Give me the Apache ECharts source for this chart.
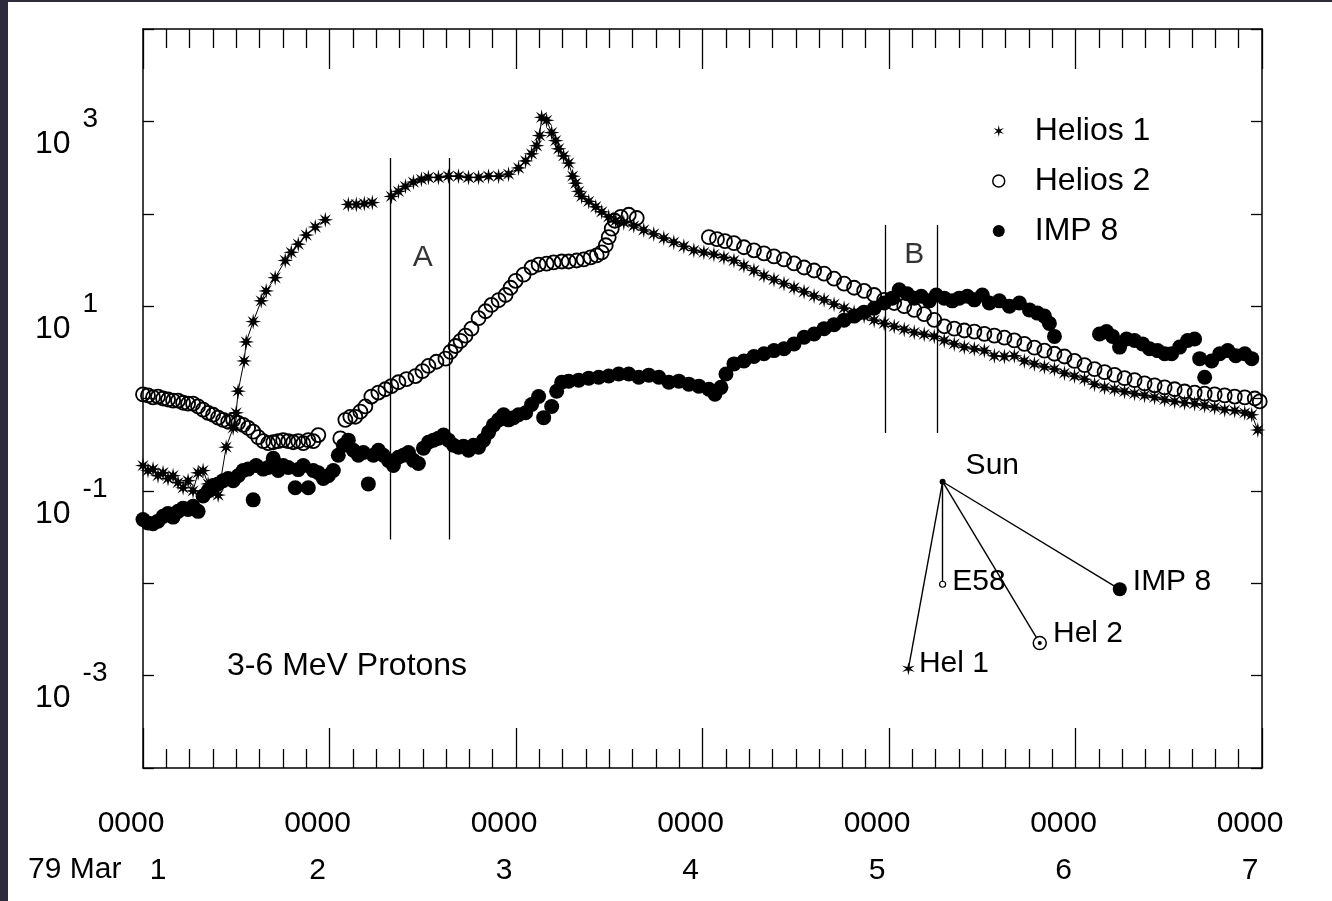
<!DOCTYPE html>
<html>
<head>
<meta charset="utf-8">
<script src="https://cdn.jsdelivr.net/npm/echarts@6/dist/echarts.min.js"></script>
<style>
  html, body { margin: 0; padding: 0; background: #2e2c3c; }
  #chart { position: absolute; left: 8px; top: 2px; width: 1324px; height: 899px; background: #fff; }
</style>
</head>
<body>
<div id="chart"></div>
<script>
// hours after 79 Mar 1 0000 UT, flux (3-6 MeV protons)
const helios1 = [
  [0, 0.188], [0.64, 0.166], [1.29, 0.172], [1.93, 0.146], [2.58, 0.157], [3.22, 0.136], [3.87, 0.146],
  [4.51, 0.123], [5.16, 0.108], [5.8, 0.129], [6.44, 0.1], [7.09, 0.157], [7.73, 0.166], [8.38, 0.119],
  [9.02, 0.1], [9.67, 0.09], [10.7, 0.297], [11.6, 0.48], [11.99, 0.7], [12.24, 1.2], [13.02, 2.55],
  [13.28, 4.1], [14.18, 6.8], [15.21, 11.4], [15.85, 14.6], [17.01, 20.3], [18.3, 31.2], [19.08, 38.2],
  [19.98, 46.8], [21.01, 58.8], [22.17, 71.9], [23.46, 85.9], [24.5, null],
  [26.42, 126], [27.45, 126], [28.48, 129], [29.51, 132], [30.5, null],
  [31.96, 154], [32.87, 175], [33.77, 198], [34.8, 220], [35.83, 236], [36.73, 247], [38.02, 247],
  [39.31, 255], [40.6, 255], [41.89, 247], [43.18, 247], [44.47, 255], [45.76, 255], [47.04, 268],
  [48.33, 313], [49.24, 373], [50.01, 445], [50.65, 545], [51.04, 702], [51.3, 1107], [51.94, 1026],
  [52.59, 757], [53.1, 618], [53.49, 505], [54.13, 423], [54.78, 354], [55.29, 255], [55.68, 214],
  [56.07, 175], [56.45, 154], [57.36, 136], [58.26, 119], [59.03, 105], [59.93, 92.7], [60.84, 84],
  [61.87, 80], [63.16, 74], [64.44, 66.7], [65.73, 60.5], [67.02, 54.5], [68.31, 49.2], [69.6, 44.5],
  [70.89, 40.2], [72.18, 38.2], [73.47, 36.3], [74.76, 33.7], [76.05, 31.2], [77.33, 27.5], [78.62, 24.3],
  [79.91, 21.4], [81.2, 19.4], [82.49, 17.5], [83.78, 15.8], [85.07, 14.3], [86.36, 12.9], [87.65, 11.7],
  [88.93, 10.5], [90.22, 9.5], [91.51, 8.6], [92.8, 7.8], [94.09, 7.05], [95.38, 6.5], [96.67, 6.05],
  [97.96, 5.6], [99.25, 5.2], [100.53, 4.95], [101.82, 4.7], [103.11, 4.25], [104.4, 3.9], [105.69, 3.6],
  [106.98, 3.45], [108.27, 3.3], [109.56, 2.9], [110.85, 2.85], [112.13, 2.9], [113.42, 2.55], [114.71, 2.37],
  [116.0, 2.2], [117.29, 2.08], [118.58, 1.88], [119.87, 1.75], [121.16, 1.62], [122.45, 1.43], [123.74, 1.32],
  [125.03, 1.26], [126.31, 1.19], [127.6, 1.13], [128.89, 1.08], [130.18, 1.03], [131.47, 0.975], [132.76, 0.93],
  [134.04, 0.9], [135.33, 0.88], [136.62, 0.84], [137.91, 0.8], [139.2, 0.757], [140.49, 0.74], [141.78, 0.7],
  [142.68, 0.667], [143.46, 0.456]
]
const helios2 = [
  [0, 1.11], [0.64, 1.08], [1.29, 1.03], [1.93, 1.05], [2.58, 1.0], [3.22, 0.975], [3.87, 0.95], [4.51, 0.95],
  [5.16, 0.9], [5.8, 0.88], [6.44, 0.88], [7.09, 0.82], [7.73, 0.757], [8.38, 0.7], [9.02, 0.667], [9.67, 0.62],
  [10.31, 0.587], [10.96, 0.56], [11.6, 0.587], [12.24, 0.545], [12.89, 0.518], [13.53, 0.48], [14.18, 0.437],
  [14.82, 0.382], [15.47, 0.345], [16.11, 0.328], [16.76, 0.336], [17.4, 0.345], [18.04, 0.354], [18.69, 0.345],
  [19.33, 0.336], [19.98, 0.345], [20.62, 0.328], [21.27, 0.354], [21.91, 0.345], [22.56, 0.402],
  [25.39, 0.37], [26.04, 0.587], [26.68, 0.634], [27.32, 0.634], [27.97, 0.72], [28.61, 0.82], [29.39, 1.05],
  [30.29, 1.16], [31.19, 1.26], [31.96, 1.36], [32.87, 1.5], [33.9, 1.62], [35.06, 1.75], [35.96, 1.98],
  [36.73, 2.25], [37.76, 2.5], [38.92, 2.7], [39.57, 3.2], [40.21, 3.7], [40.86, 4.2], [41.5, 4.8], [42.27, 5.7],
  [43.18, 7.4], [44.08, 8.8], [44.85, 10.3], [45.76, 11.6], [46.66, 13.2], [47.3, 15.8], [47.95, 18.8],
  [48.98, 21.9], [50.01, 26.2], [50.91, 28.2], [51.94, 28.8], [52.84, 29.7], [53.88, 30.4], [54.78, 30.4],
  [55.8, 31.2], [56.71, 32.0], [57.61, 33.7], [58.39, 35.4], [59.03, 38.2], [59.55, 45.6], [59.93, 55.8],
  [60.32, 69], [60.71, 84], [61.48, 92.7], [62.51, 97.5], [63.54, 90],
  [72.82, 55.8], [73.86, 53.1], [74.89, 50.5], [76.05, 48], [77.33, 43.4], [78.62, 40.2], [79.91, 37.2],
  [81.2, 34.5], [82.49, 32], [83.78, 29], [85.07, 26.2], [86.36, 24.3], [87.65, 22.5], [88.93, 19.8],
  [90.22, 17.5], [91.51, 15.8], [92.8, 14.6], [94.09, 13.2], [95.38, 11.7], [96.67, 10.8], [97.96, 10.0],
  [99.25, 9.1], [100.53, 8.2], [101.82, 7.1], [103.11, 6.05], [104.4, 5.7], [105.69, 5.45], [106.98, 5.3],
  [108.27, 5.0], [109.56, 4.8], [110.85, 4.55], [112.13, 4.25], [113.42, 3.9], [114.71, 3.55], [116.0, 3.3],
  [117.29, 3.05], [118.58, 2.85], [119.87, 2.55], [121.16, 2.3], [122.45, 2.08], [123.74, 1.93], [125.03, 1.8],
  [126.31, 1.66], [127.6, 1.58], [128.89, 1.46], [130.18, 1.39], [131.47, 1.32], [132.76, 1.26], [134.04, 1.19],
  [135.33, 1.16], [136.62, 1.13], [137.91, 1.11], [139.2, 1.08], [140.49, 1.05], [141.78, 1.03], [143.07, 1.0],
  [143.71, 0.93]
]
const imp8 = [
  [0, 0.049], [0.64, 0.045], [1.29, 0.044], [1.93, 0.047], [2.58, 0.053], [3.22, 0.057], [3.87, 0.052],
  [4.51, 0.06], [5.16, 0.065], [5.8, 0.063], [6.44, 0.068], [7.09, 0.06], [7.73, 0.088], [8.38, 0.1],
  [9.02, 0.114], [9.67, 0.119], [10.31, 0.129], [10.96, 0.136], [11.6, 0.129], [12.24, 0.146], [12.89, 0.166],
  [13.53, 0.172], [14.18, 0.08], [14.56, 0.188], [15.47, 0.172], [16.11, 0.179], [16.76, 0.225], [17.4, 0.166],
  [18.04, 0.188], [18.69, 0.179], [19.59, 0.108], [19.98, 0.17], [20.62, 0.188], [21.27, 0.108], [21.91, 0.166],
  [22.56, 0.157], [23.2, 0.136], [23.84, 0.146], [24.49, 0.166], [25.13, 0.243], [25.78, 0.312], [26.42, 0.354],
  [27.07, 0.275], [27.71, 0.243], [28.36, 0.26], [29.0, 0.119], [29.64, 0.243], [30.29, 0.275], [30.93, 0.243],
  [31.58, 0.214], [32.22, 0.188], [32.87, 0.231], [33.51, 0.243], [34.16, 0.26], [34.8, 0.214], [35.44, 0.198],
  [36.09, 0.29], [36.73, 0.336], [37.38, 0.354], [38.02, 0.372], [38.67, 0.402], [39.31, 0.354], [39.96, 0.312],
  [40.6, 0.297], [41.24, 0.304], [41.89, 0.275], [42.53, 0.312], [43.18, 0.297], [43.82, 0.354], [44.47, 0.43],
  [45.11, 0.518], [45.76, 0.587], [46.4, 0.667], [47.04, 0.587], [47.69, 0.62], [48.33, 0.667], [49.24, 0.7],
  [50.01, 0.86], [50.91, 1.05], [51.56, 0.62], [52.59, 0.82], [53.23, 1.2], [53.88, 1.5], [54.78, 1.54],
  [56.07, 1.58], [57.36, 1.66], [58.64, 1.7], [59.93, 1.75], [61.22, 1.84], [62.51, 1.84], [63.8, 1.7],
  [65.09, 1.79], [66.38, 1.7], [67.67, 1.5], [68.96, 1.54], [70.24, 1.43], [71.53, 1.36], [72.82, 1.26],
  [73.6, 1.11], [74.37, 1.32], [75.02, 1.84], [76.05, 2.37], [77.33, 2.55], [78.62, 2.85], [79.91, 3.05],
  [81.2, 3.3], [82.49, 3.45], [83.78, 3.9], [85.07, 4.6], [86.36, 5.0], [87.65, 5.7], [88.93, 6.3], [90.22, 7.05],
  [91.51, 7.8], [92.8, 8.6], [94.09, 9.5], [95.38, 10.8], [96.41, 12.2], [97.31, 15.0], [98.34, 13.6],
  [99.25, 12.2], [100.15, 12.8], [101.18, 11.4], [102.08, 13.2], [103.11, 12.2], [104.14, 11.4], [105.04, 12.2],
  [106.08, 12.8], [106.98, 11.7], [108.01, 13.2], [108.91, 10.8], [110.2, 11.4], [111.49, 10.0], [112.78, 10.8],
  [114.07, 9.1], [115.1, 8.4], [116.0, 7.8], [116.64, 6.5], [117.29, 4.7],
  [123.09, 5.0], [123.99, 5.3], [124.77, 4.7], [125.67, 3.6], [126.57, 4.4], [127.6, 4.25], [128.63, 3.9],
  [129.53, 3.45], [130.56, 3.3], [131.47, 3.05], [132.37, 3.05], [133.4, 3.6], [134.43, 4.25], [135.33, 4.4],
  [135.98, 2.7], [136.62, 1.7], [137.52, 2.55], [138.56, 3.05], [139.59, 3.3], [140.62, 2.9], [141.78, 3.05],
  [142.68, 2.7]
]

const dayLabels = ['1', '2', '3', '4', '5', '6', '7']
const hourLabel = '0000'
const shownExponents = [3, 1, -1, -3]

// vertical markers of intervals A and B
const dividerHours = [31.8, 39.4, 95.5, 102.2]
const dividerTop = [402, 402, 75.7, 75.7]
const dividerBottom = [0.0297, 0.0297, 0.423, 0.423]
const regionNames = ['A', 'B']
const regionHours = [36.0, 99.25]
const regionLevel = [33, 36]

// spacecraft configuration sketch
const insetNames = ['Sun', 'E58', 'IMP 8', 'Hel 2', 'Hel 1']
const insetHours = [102.9, 102.9, 125.7, 115.4, 98.5]
const insetLevel = [0.1256, 0.00975, 0.0086, 0.00225, 0.00119]

const FONT = 'Liberation Sans, Arial, Helvetica, sans-serif'

function starPath(n, inner) {
  let d = ''
  for (let i = 0; i < 2 * n; i++) {
    const r = i % 2 ? inner : 1
    const a = Math.PI * i / n - Math.PI / 2
    d += (i ? 'L' : 'M') + (r * Math.cos(a) * 50 + 50).toFixed(1) + ',' + (r * Math.sin(a) * 50 + 50).toFixed(1)
  }
  return 'path://' + d + 'Z'
}
const STAR = starPath(8, 0.36)
const STAR6 = starPath(6, 0.3)

const chart = echarts.init(document.getElementById('chart'))

const xCommon = {
  type: 'value',
  min: 0,
  max: 144,
  interval: 24,
  axisLine: { show: true, onZero: false, lineStyle: { color: '#000', width: 1.5 } },
  axisTick: { show: true, inside: true, length: 40, lineStyle: { color: '#000', width: 1.3 } },
  minorTick: { show: true, splitNumber: 8, length: 19, lineStyle: { color: '#000', width: 1.3 } },
  splitLine: { show: false },
  minorSplitLine: { show: false }
}
const yCommon = {
  type: 'log',
  logBase: 10,
  min: 1e-4,
  max: 1e4,
  interval: 1,
  splitNumber: 8,
  axisLine: { show: true, onZero: false, lineStyle: { color: '#000', width: 1.5 } },
  axisTick: { show: true, inside: true, length: 11, lineStyle: { color: '#000', width: 1.3 } },
  splitLine: { show: false }
}

const insetNodes = insetNames.map((name, i) => {
  const node = { name, value: [insetHours[i], insetLevel[i]], label: { show: true, position: 'right', distance: 6 } }
  if (name === 'Sun') {
    node.symbol = 'circle'; node.symbolSize = 6
    node.itemStyle = { color: '#000' }
    node.label.offset = [14, -16]
  } else if (name === 'E58') {
    node.symbol = 'circle'; node.symbolSize = 6
    node.itemStyle = { color: '#fff', borderColor: '#000', borderWidth: 1.2 }
    node.label.offset = [0, -3]
  } else if (name === 'IMP 8') {
    node.symbol = 'circle'; node.symbolSize = 14
    node.itemStyle = { color: '#000' }
    node.label.offset = [0, -8]
  } else if (name === 'Hel 2') {
    node.symbol = 'circle'; node.symbolSize = 13
    node.itemStyle = { color: '#fff', borderColor: '#000', borderWidth: 1.5 }
    node.label.offset = [0, -9]
  } else {
    node.symbol = STAR6; node.symbolSize = 13
    node.itemStyle = { color: '#000' }
    node.label.offset = [-2, -5]
  }
  return node
})
// centre dot of the Hel 2 marker
insetNodes.push({ name: 'Hel 2 dot', value: [insetHours[3], insetLevel[3]], symbol: 'circle', symbolSize: 4, itemStyle: { color: '#000' } })

chart.setOption({
  animation: false,
  textStyle: { fontFamily: FONT, color: '#000' },
  title: {
    text: '3-6 MeV Protons',
    left: 214,
    top: 643,
    textStyle: { fontFamily: FONT, fontSize: 32, fontWeight: 'normal', color: '#000' }
  },
  legend: {
    orient: 'vertical',
    left: 979,
    top: 108,
    itemWidth: 62,
    itemHeight: 12,
    itemGap: 18,
    textStyle: { fontFamily: FONT, fontSize: 32, lineHeight: 32, color: '#000' },
    data: [
      { name: 'Helios 1', icon: STAR6, itemStyle: { color: '#000', borderWidth: 0 } },
      { name: 'Helios 2', icon: 'circle', itemStyle: { color: '#fff', borderColor: '#000', borderWidth: 1.5 } },
      { name: 'IMP 8', icon: 'circle', itemStyle: { color: '#000', borderWidth: 0 } }
    ]
  },
  graphic: [{
    type: 'text',
    left: 20,
    top: 853,
    style: { text: '79 Mar', font: '30px ' + FONT, fill: '#000' }
  }],
  grid: { left: 135, right: 70, top: 27, bottom: 133 },
  xAxis: [
    Object.assign({}, xCommon, {
      position: 'bottom',
      axisLabel: {
        show: true,
        margin: 32,
        fontFamily: FONT,
        fontSize: 30,
        lineHeight: 47,
        color: '#000',
        showMinLabel: true,
        showMaxLabel: true,
        padding: [0, 24, 0, 0],
        formatter: v => {
          const i = Math.round(v / 24)
          if (i === 0) return hourLabel + '\n{first|' + dayLabels[i] + '}'
          return hourLabel + '\n' + dayLabels[i]
        },
        rich: { first: { fontFamily: FONT, fontSize: 30, lineHeight: 47, padding: [0, 0, 0, 54] } }
      }
    }),
    Object.assign({}, xCommon, { position: 'top', axisLabel: { show: false } })
  ],
  yAxis: [
    Object.assign({}, yCommon, {
      position: 'left',
      axisLabel: {
        show: true,
        align: 'left',
        margin: 108,
        padding: [24, 0, 0, 0],
        formatter: v => {
          const e = Math.round(Math.log10(v))
          return shownExponents.includes(e) ? '{b|10}{e|' + e + '}' : ''
        },
        rich: {
          b: { fontFamily: FONT, fontSize: 32, lineHeight: 30, padding: [22, 0, 0, 0], color: '#000' },
          e: { fontFamily: FONT, fontSize: 28, lineHeight: 24, padding: [0, 0, 28, 12], color: '#000' }
        }
      }
    }),
    Object.assign({}, yCommon, { position: 'right', axisLabel: { show: false } })
  ],
  series: [
    {
      name: 'Helios 1',
      type: 'line',
      data: helios1,
      connectNulls: false,
      symbol: STAR,
      symbolSize: 16,
      showAllSymbol: true,
      lineStyle: { color: '#000', width: 1 },
      itemStyle: { color: '#000' },
      z: 3
    },
    {
      name: 'Helios 2',
      type: 'scatter',
      data: helios2,
      symbol: 'circle',
      symbolSize: 14,
      itemStyle: { color: 'rgba(255,255,255,0)', borderColor: '#000', borderWidth: 1.8, opacity: 1 },
      z: 4
    },
    {
      name: 'IMP 8',
      type: 'scatter',
      data: imp8,
      symbol: 'circle',
      symbolSize: 15,
      itemStyle: { color: '#000', opacity: 1 },
      z: 5
    },
    {
      name: 'intervals',
      type: 'scatter',
      data: regionNames.map((n, i) => [regionHours[i], regionLevel[i], n]),
      symbolSize: 0,
      label: {
        show: true,
        position: 'inside',
        formatter: p => p.value[2],
        fontFamily: FONT,
        fontSize: 30,
        color: '#000'
      },
      markLine: {
        silent: true,
        symbol: 'none',
        label: { show: false },
        lineStyle: { color: '#000', width: 1.3, type: 'solid' },
        data: dividerHours.map((h, i) => [{ coord: [h, dividerTop[i]] }, { coord: [h, dividerBottom[i]] }])
      }
    },
    {
      name: 'configuration',
      type: 'graph',
      coordinateSystem: 'cartesian2d',
      xAxisIndex: 0,
      yAxisIndex: 0,
      silent: true,
      data: insetNodes,
      links: insetNames.slice(1).map(n => ({ source: 'Sun', target: n })),
      lineStyle: { color: '#000', width: 1.4, opacity: 1, curveness: 0 },
      label: { fontFamily: FONT, fontSize: 30, color: '#000' },
      z: 6
    }
  ]
})
</script>
</body>
</html>
